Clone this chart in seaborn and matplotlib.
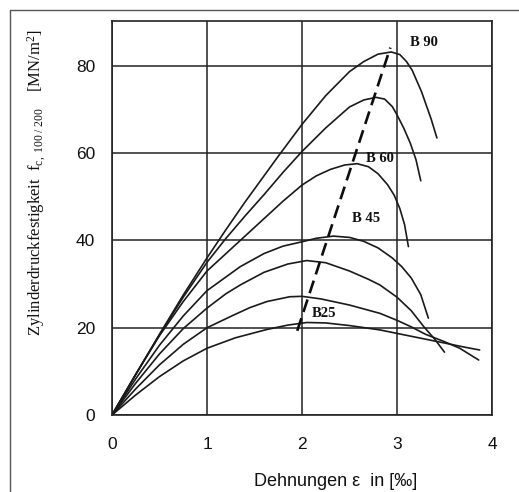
import numpy as np
import pandas as pd
import matplotlib
matplotlib.use("Agg")
import matplotlib.pyplot as plt
from matplotlib.lines import Line2D
import seaborn as sns

# ---- data ----
b90_x = [0, 0.25, 0.5, 0.75, 1.0, 1.2, 1.4, 1.6, 1.75, 2.0, 2.25, 2.5, 2.65, 2.8, 2.94,
         3.03, 3.1, 3.16, 3.21, 3.26, 3.3, 3.36, 3.42]
b90_y = [0, 9.3, 18.5, 27.5, 36.0, 42.5, 48.8, 54.8, 59.3, 66.6, 73.2, 78.7, 81.0, 82.7, 83.2,
         82.6, 81.0, 79.0, 76.5, 74.0, 71.5, 67.8, 63.5]

c2_x = [0, 0.25, 0.5, 0.75, 1.0, 1.2, 1.4, 1.6, 1.8, 2.0, 2.25, 2.5, 2.65, 2.78, 2.87,
        2.95, 3.0, 3.07, 3.14, 3.2, 3.25]
c2_y = [0, 9.3, 18.4, 27.0, 35.0, 40.5, 45.6, 50.5, 55.6, 60.4, 65.8, 70.6, 72.2, 72.8, 72.4,
        70.7, 68.8, 65.8, 62.3, 58.5, 53.7]

b60_x = [0, 0.25, 0.5, 0.75, 1.0, 1.35, 1.6, 1.8, 2.0, 2.15, 2.3, 2.45, 2.58, 2.7, 2.8,
         2.9, 2.97, 3.03, 3.08, 3.12]
b60_y = [0, 9.3, 18.2, 26.0, 33.0, 40.0, 45.0, 49.0, 52.7, 54.8, 56.3, 57.3, 57.6, 56.9, 55.3,
         52.8, 50.4, 47.3, 43.6, 38.6]

b45_x = [0, 0.25, 0.5, 0.75, 1.0, 1.35, 1.6, 1.8, 2.0, 2.15, 2.33, 2.5, 2.65, 2.8, 2.95,
         3.05, 3.15, 3.25, 3.33]
b45_y = [0, 8.3, 16.0, 22.7, 28.5, 34.0, 37.0, 38.7, 39.7, 40.5, 41.0, 40.7, 39.8, 38.3, 36.0,
         34.0, 31.4, 27.6, 22.2]

c5_x = [0, 0.25, 0.5, 0.75, 1.0, 1.2, 1.35, 1.6, 1.85, 2.05, 2.25, 2.5, 2.7, 2.82, 3.0,
        3.15, 3.28, 3.4, 3.5]
c5_y = [0, 7.3, 14.0, 19.8, 24.5, 27.8, 29.8, 32.7, 34.6, 35.4, 34.9, 33.0, 31.1, 29.8, 27.0,
        23.9, 20.3, 17.3, 14.4]

c6_x = [0, 0.25, 0.5, 0.75, 1.0, 1.28, 1.45, 1.63, 1.87, 2.0, 2.2, 2.5, 2.82, 3.0, 3.15,
        3.3, 3.5, 3.66, 3.86]
c6_y = [0, 6.0, 11.5, 16.2, 20.0, 22.9, 24.6, 26.0, 27.1, 27.2, 26.6, 25.2, 23.3, 21.7, 20.2,
        18.5, 16.8, 15.3, 12.6]

b25_x = [0, 0.25, 0.5, 0.75, 1.0, 1.3, 1.63, 1.85, 2.05, 2.25, 2.5, 2.82, 3.0, 3.25, 3.5,
         3.7, 3.87]
b25_y = [0, 4.6, 8.8, 12.4, 15.3, 17.7, 19.6, 20.6, 21.2, 21.1, 20.5, 19.5, 18.7, 17.6, 16.5,
         15.6, 14.9]

peak_line_x = [1.95, 2.93]
peak_line_y = [19.3, 84.2]

label_texts = ["B 90", "B 60", "B 45", "B25"]
label_x = [3.14, 2.67, 2.53, 2.10]
label_y = [85.3, 58.9, 45.1, 23.2]

x_ticks = [0, 1, 2, 3, 4]
y_ticks = [0, 20, 40, 60, 80]

curves = {
    "B90": (b90_x, b90_y), "c2": (c2_x, c2_y), "B60": (b60_x, b60_y),
    "B45": (b45_x, b45_y), "c5": (c5_x, c5_y), "c6": (c6_x, c6_y),
    "B25": (b25_x, b25_y),
}
rows = []
for name, (xs, ys) in curves.items():
    for i, (xv, yv) in enumerate(zip(xs, ys)):
        rows.append({"curve": name, "order": i, "eps": xv, "sigma": yv})
df = pd.DataFrame(rows)

# ---- figure ----
sns.set_theme(style="white")
plt.rcParams["font.family"] = ["Liberation Sans", "DejaVu Sans"]
plt.rcParams["mathtext.fontset"] = "custom"
plt.rcParams["mathtext.rm"] = "Liberation Serif"
plt.rcParams["mathtext.it"] = "Liberation Serif:italic"

W, H = 519, 492
fig = plt.figure(figsize=(W / 100, H / 100), dpi=100)
ax = fig.add_axes([112 / W, 1 - 415 / H, (492 - 112) / W, (415 - 21) / H])

for name in curves:
    sub = df[df["curve"] == name]
    sns.lineplot(data=sub, x="eps", y="sigma", sort=False, estimator=None,
                 color="#1a1a1a", lw=1.2, ax=ax, legend=False)

ax.plot(peak_line_x, peak_line_y, color="#0d0d0d", lw=1.9,
        linestyle=(0, (5, 2.5)))

for t, xv, yv in zip(label_texts, label_x, label_y):
    ax.text(xv, yv, t, family="Liberation Serif", fontweight="bold",
            fontsize=10.5, ha="left", va="center", color="#111111")

ax.set_xlim(0, 4)
ax.set_ylim(0, 90.3)
ax.set_xticks(x_ticks)
ax.set_yticks(y_ticks)
ax.set_xticklabels([str(v) for v in x_ticks])
ax.set_yticklabels([str(v) for v in y_ticks])
ax.tick_params(axis="x", length=0, pad=16, labelsize=12.5, colors="#111111")
ax.tick_params(axis="y", length=0, pad=12, labelsize=12.5, colors="#111111")
ax.grid(True, color="#222222", lw=1.1)
for sp in ax.spines.values():
    sp.set_color("#222222")
    sp.set_linewidth(1.2)
ax.set_xlabel("")
ax.set_ylabel("")

fig.text(336 / W, 1 - 482 / H, "Dehnungen ε  in [‰]", ha="center", va="center",
         fontsize=13, color="#111111")
fig.text(37 / W, 1 - 336 / H,
         r"Zylinderdruckfestigkeit  f$_{\mathregular{c,\ 100\ /\ 200}}$    [MN/m$^{\mathregular{2}}$]",
         rotation=90, ha="center", va="bottom", fontsize=12,
         family="Liberation Serif", color="#111111")

# page frame
fig.add_artist(Line2D([10 / W, 10 / W], [0, 1 - 10 / H], transform=fig.transFigure,
                      color="#555555", lw=1.0))
fig.add_artist(Line2D([10 / W, 1.0], [1 - 10 / H, 1 - 10 / H], transform=fig.transFigure,
                      color="#555555", lw=1.0))

fig.savefig("out.png", dpi=100)
